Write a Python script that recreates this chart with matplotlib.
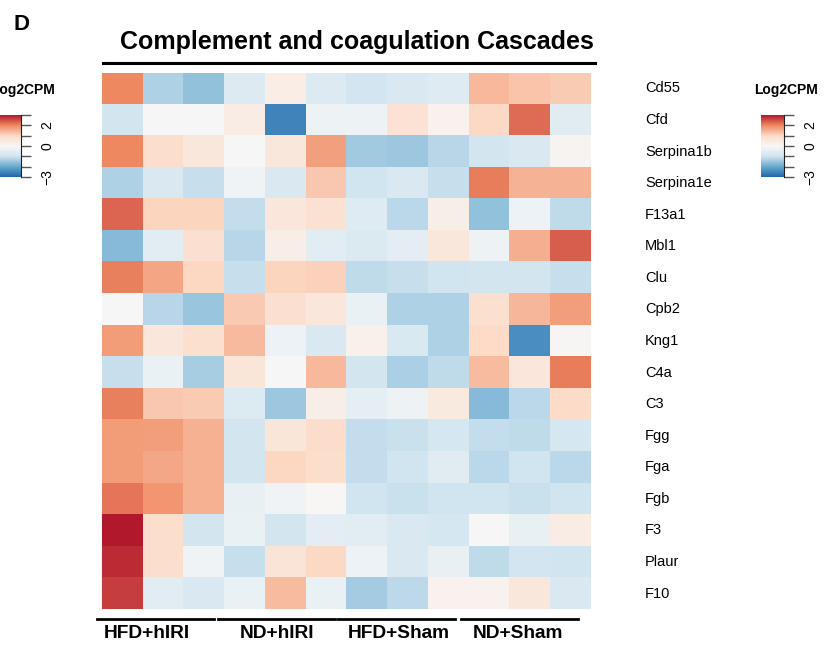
import numpy as np
import matplotlib
matplotlib.use("Agg")
import matplotlib.pyplot as plt
from matplotlib.colors import LinearSegmentedColormap
from matplotlib.transforms import blended_transform_factory
from matplotlib.lines import Line2D

plt.rcParams['font.family'] = ['Liberation Sans', 'DejaVu Sans']

genes = ["Cd55", "Cfd", "Serpina1b", "Serpina1e", "F13a1", "Mbl1", "Clu", "Cpb2",
         "Kng1", "C4a", "C3", "Fgg", "Fga", "Fgb", "F3", "Plaur", "F10"]
groups = ["HFD+hIRI", "ND+hIRI", "HFD+Sham", "ND+Sham"]
legend_ticks = [-3, -2, -1, 0, 1, 2, 3]
legend_labels = ["\u22123", "", "", "0", "", "2", ""]

# Log2CPM (scaled) per gene, 12 samples: 3 per group
cd55      = [2.0, -1.33, -1.59, -0.66, 0.35, -0.66, -0.95, -0.79, -0.62, 1.42, 1.27, 1.19]
cfd       = [-0.92, 0.0, 0.0, 0.39, -2.55, -0.24, -0.24, 0.71, 0.21, 1.02, 2.25, -0.58]
serpina1b = [2.0, 0.86, 0.54, 0.0, 0.54, 1.73, -1.44, -1.49, -1.24, -0.92, -0.79, 0.12]
serpina1e = [-1.33, -0.79, -1.08, -0.21, -0.79, 1.22, -0.97, -0.79, -1.1, 2.1, 1.48, 1.48]
f13a1     = [2.32, 1.07, 1.07, -1.11, 0.57, 0.75, -0.61, -1.21, 0.29, -1.59, -0.26, -1.16]
mbl1      = [-1.69, -0.53, 0.79, -1.24, 0.32, -0.53, -0.71, -0.5, 0.54, -0.24, 1.54, 2.39]
clu       = [2.07, 1.65, 1.04, -1.08, 1.06, 1.11, -1.16, -1.09, -0.97, -0.92, -0.92, -1.1]
cpb2      = [0.0, -1.24, -1.52, 1.21, 0.79, 0.57, -0.32, -1.32, -1.32, 0.82, 1.44, 1.75]
kng1      = [1.78, 0.57, 0.82, 1.4, -0.26, -0.79, 0.25, -0.76, -1.32, 1.0, -2.41, 0.05]
c4a       = [-1.1, -0.32, -1.4, 0.61, 0.0, 1.41, -0.92, -1.34, -1.16, 1.36, 0.6, 2.1]
c3        = [2.07, 1.23, 1.19, -0.68, -1.49, 0.3, -0.45, -0.24, 0.46, -1.69, -1.2, 0.96]
fgg       = [1.78, 1.74, 1.52, -0.92, 0.61, 0.93, -1.12, -1.06, -0.87, -1.12, -1.16, -0.88]
fga       = [1.78, 1.64, 1.52, -0.92, 1.04, 0.86, -1.12, -0.97, -0.58, -1.2, -1.0, -1.2]
fgb       = [2.17, 1.85, 1.52, -0.37, -0.21, 0.03, -0.97, -1.06, -1.0, -1.0, -1.06, -1.0]
f3        = [3.0, 0.86, -0.92, -0.32, -0.92, -0.5, -0.55, -0.79, -0.87, 0.0, -0.39, 0.36]
plaur     = [2.82, 0.86, -0.21, -1.1, 0.64, 1.02, -0.26, -0.79, -0.39, -1.16, -0.95, -1.0]
f10       = [2.66, -0.55, -0.79, -0.32, 1.36, -0.32, -1.42, -1.19, 0.2, 0.2, 0.54, -0.79]

data = np.array([cd55, cfd, serpina1b, serpina1e, f13a1, mbl1, clu, cpb2, kng1,
                 c4a, c3, fgg, fga, fgb, f3, plaur, f10])
n_rows, n_cols = data.shape
reps = n_cols // len(groups)

cmap = LinearSegmentedColormap.from_list(
    "rdbu7", ["#2166AC", "#67A9CF", "#D1E5F0", "#F7F7F7", "#FDDBC7", "#EF8A62", "#B2182B"], N=256)

W, H = 828, 650
fig = plt.figure(figsize=(W / 100, H / 100), dpi=100)

def fx(px):
    return px / W

def fy(py):
    return 1 - py / H

# heatmap
hl, hr, ht, hb = 101.7, 590.7, 72.7, 609.3
ax = fig.add_axes([fx(hl), fy(hb), fx(hr - hl), (hb - ht) / H])
ax.imshow(data, cmap=cmap, vmin=-3, vmax=3, aspect='auto', interpolation='nearest')
ax.set_xlim(-0.5, n_cols - 0.5)
ax.set_ylim(n_rows - 0.5, -0.5)
ax.axis('off')

trans = blended_transform_factory(ax.transAxes, ax.transData)
for i, g in enumerate(genes):
    ax.text(1.111, i, g, transform=trans, ha='left', va='center', fontsize=10.5, color='black')

# title and line
fig.text(fx(356.5), fy(42), "Complement and coagulation Cascades", ha='center', va='center',
         fontsize=18, fontweight='bold')
fig.add_artist(Line2D([fx(102.7), fx(595)], [fy(63.3), fy(63.3)], color='black', lw=2.2))

# panel letter
fig.text(fx(22), fy(24), "D", ha='center', va='center', fontsize=16, fontweight='bold')

# group labels and lines below
col_w = (hr - hl) / n_cols
label_offsets = [-16, -8, -9, -12]
line_offsets = [-5, -6, -8.2, -7.5]
line_len = 117
for k, g in enumerate(groups):
    cx = hl + (k * reps + reps / 2) * col_w
    fig.text(fx(cx + label_offsets[k]), fy(633), g, ha='center', va='center',
             fontsize=13.8, fontweight='bold')
    x0 = hl + k * reps * col_w + line_offsets[k]
    x1 = x0 + line_len
    fig.add_artist(Line2D([fx(x0), fx(x1)], [fy(618.5), fy(618.5)], color='black', lw=2))

# colorbar legends
def legend(left, title_cx):
    cax = fig.add_axes([fx(left), fy(177), fx(23.6), 62 / H])
    grad = np.linspace(3, -3, 256)[:, None]
    cax.imshow(grad, cmap=cmap, vmin=-3, vmax=3, aspect='auto', extent=(0, 1, -3, 3))
    cax.set_xlim(0, 1)
    cax.set_ylim(-3, 3)
    cax.set_xticks([])
    cax.yaxis.tick_right()
    cax.set_yticks(legend_ticks)
    cax.set_yticklabels(legend_labels, rotation=90, va='center', fontsize=10)
    cax.tick_params(axis='y', length=7, width=1, color='#555555', pad=7)
    for s in ['top', 'bottom', 'left']:
        cax.spines[s].set_visible(False)
    cax.spines['right'].set_color('#222222')
    fig.text(fx(title_cx), fy(90), "Log2CPM", ha='center', va='center',
             fontsize=10, fontweight='bold')

legend(760.7, 786.5)
legend(-2.3, 23.5)

fig.savefig("out.png", dpi=100)
